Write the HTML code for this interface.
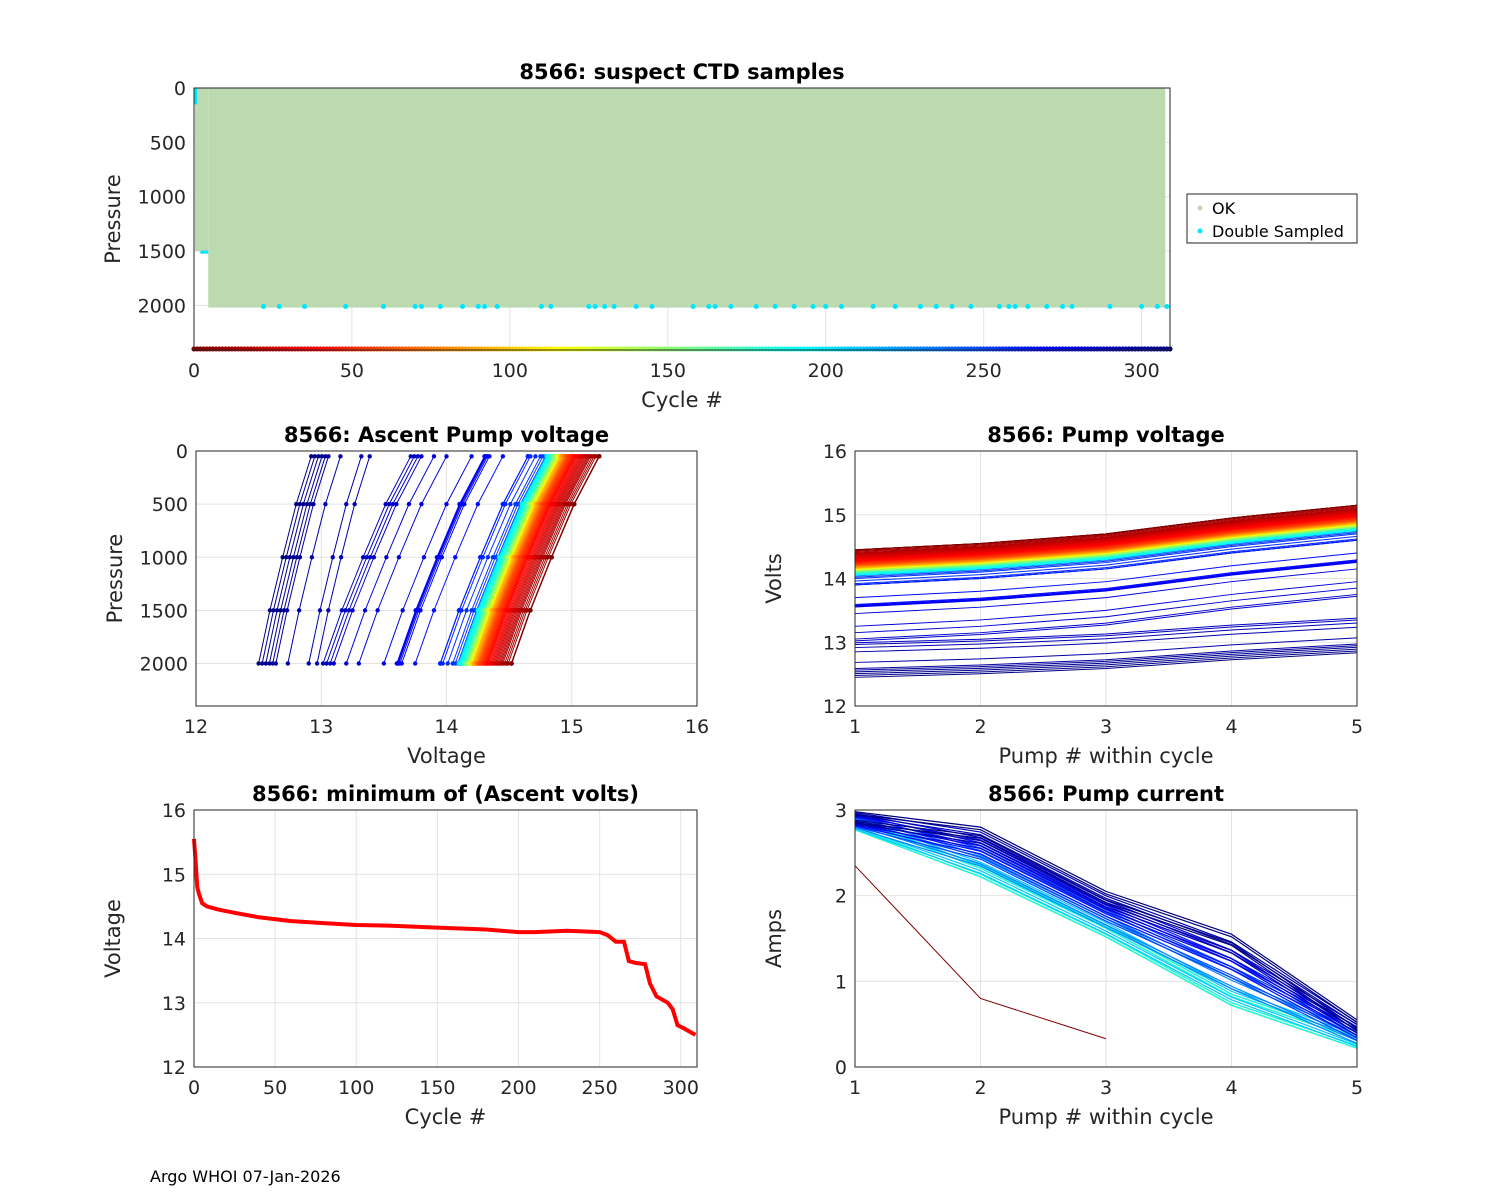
<!DOCTYPE html>
<html><head><meta charset="utf-8"><style>
body{margin:0;background:#fff;width:1500px;height:1200px;overflow:hidden;font-family:"DejaVu Sans","Liberation Sans",sans-serif}
svg text{font-family:"DejaVu Sans","Liberation Sans",sans-serif;fill:#262626}
</style></head><body>
<svg id="fig" width="1500" height="1200" xmlns="http://www.w3.org/2000/svg">
<text x="150" y="1182" font-size="16" style="fill:#000">Argo WHOI 07-Jan-2026</text>
</svg>
<script>
// ---- data ----
const minCycles=[0,1,2,3,5,8,15,25,40,60,80,100,120,150,180,200,210,230,250,255,260,265,268,272,278,281,285,292,295,298,302,309];
const minVolts=[15.55,15.2,14.8,14.7,14.55,14.5,14.45,14.4,14.33,14.27,14.24,14.21,14.2,14.17,14.14,14.1,14.1,14.12,14.1,14.05,13.95,13.95,13.65,13.62,13.6,13.3,13.1,13.0,12.9,12.65,12.6,12.5];
const doubleSampled=[22,27,35,48,60,70,72,78,85,90,92,96,110,113,125,127,130,133,140,145,158,163,165,170,178,184,190,196,200,205,215,222,230,235,240,246,255,258,260,264,270,275,278,290,300,305,308];
const pumpOffsets=[0,0.1,0.25,0.5,0.7];
const ascentPressures=[2000,1500,1000,500,50];
const ascentOffsets=[0,0.15,0.32,0.5,0.7];
const currentCycles=[5,30,60,90,120,150,170,190,210,230,250,265,280,295,309];
const currentProfile=[2.9,2.35,1.65,0.85,0.35];
const currentProfileHigh=[2.98,2.8,2.05,1.55,0.55];
const currentOutlier=[2.35,0.8,0.33];
// ---- helpers ----
const svg=document.getElementById('fig');const NS='http://www.w3.org/2000/svg';
function el(t,a,p){const e=document.createElementNS(NS,t);for(const k in a)e.setAttribute(k,a[k]);(p||svg).appendChild(e);return e;}
function jet(t){const r=Math.min(Math.max(1.5-Math.abs(4*t-3),0),1),g=Math.min(Math.max(1.5-Math.abs(4*t-2),0),1),b=Math.min(Math.max(1.5-Math.abs(4*t-1),0),1);return `rgb(${r*255|0},${g*255|0},${b*255|0})`;}
function cycColor(c){return jet(1-c/309);}
function minAt(c){for(let i=1;i<minCycles.length;i++){if(c<=minCycles[i]){const f=(c-minCycles[i-1])/(minCycles[i]-minCycles[i-1]);return minVolts[i-1]+f*(minVolts[i]-minVolts[i-1]);}}return minVolts[minVolts.length-1];}
function axes(name,x0,y0,w,h,xmin,xmax,ymin,ymax,rev,xt,yt,title,xl,yl){
 const g=el('g',{});
 const sx=v=>x0+(v-xmin)/(xmax-xmin)*w;
 const sy=v=>rev?y0+(v-ymin)/(ymax-ymin)*h:y0+h-(v-ymin)/(ymax-ymin)*h;
 el('rect',{x:x0,y:y0,width:w,height:h,fill:'#fff'},g);
 xt.forEach(v=>{el('line',{x1:sx(v),x2:sx(v),y1:y0,y2:y0+h,stroke:'#e3e3e3'},g);const t=el('text',{x:sx(v),y:y0+h+27,'font-size':19,'text-anchor':'middle'},g);t.textContent=v;});
 yt.forEach(v=>{el('line',{x1:x0,x2:x0+w,y1:sy(v),y2:sy(v),stroke:'#e3e3e3'},g);const t=el('text',{x:x0-8,y:sy(v)+7,'font-size':19,'text-anchor':'end'},g);t.textContent=v;});
 const tt=el('text',{x:x0+w/2,y:y0-9,'font-size':21,'font-weight':'bold','text-anchor':'middle'},g);tt.textContent=title;tt.style.fill='#000';
 const xa=el('text',{x:x0+w/2,y:y0+h+57,'font-size':21,'text-anchor':'middle'},g);xa.textContent=xl;
 const ya=el('text',{x:0,y:0,'font-size':21,'text-anchor':'middle',transform:`translate(${x0-74},${y0+h/2}) rotate(-90)`},g);ya.textContent=yl;
 const plot=el('g',{},g);
 return {g,plot,sx,sy,finish(){el('rect',{x:x0,y:y0,width:w,height:h,fill:'none',stroke:'#262626'},g);}};
}
// ---- top panel ----
const A=axes('ctd-samples-axes',194,88,976,262,0,309,0,2410,true,[0,50,100,150,200,250,300],[0,500,1000,1500,2000],'8566: suspect CTD samples','Cycle #','Pressure');
el('rect',{x:A.sx(4.5),y:A.sy(0),width:A.sx(307.5)-A.sx(4.5),height:A.sy(2020)-A.sy(0),fill:'#bcdab0'},A.plot);
el('rect',{x:A.sx(0.3),y:A.sy(0),width:A.sx(4.5)-A.sx(0.3),height:A.sy(1500)-A.sy(0),fill:'#bcdab0'},A.plot);
el('line',{x1:A.sx(0.5),x2:A.sx(0.5),y1:A.sy(0),y2:A.sy(150),stroke:'#00e5ff','stroke-width':3},A.plot);
el('line',{x1:A.sx(2),x2:A.sx(4.5),y1:A.sy(1510),y2:A.sy(1510),stroke:'#00e5ff','stroke-width':3},A.plot);
doubleSampled.forEach(c=>{const d=el('circle',{cx:A.sx(c),cy:A.sy(2010),r:2.5,fill:'#00e5ff'},A.plot);});
for(let c=0;c<=309;c++){const d=el('circle',{cx:A.sx(c),cy:A.sy(2400),r:2.6,fill:cycColor(c)},A.plot);}
A.finish();
const lg=el('g',{});
el('rect',{x:1187,y:194,width:170,height:49,fill:'#fff',stroke:'#262626'},lg);
el('circle',{cx:1200,cy:208,r:2.5,fill:'#bcdab0'},lg);el('circle',{cx:1200,cy:231,r:2.5,fill:'#00e5ff'},lg);
let t=el('text',{x:1212,y:214,'font-size':16},lg);t.textContent='OK';t.style.fill='#000';
t=el('text',{x:1212,y:237,'font-size':16},lg);t.textContent='Double Sampled';t.style.fill='#000';
// ---- ascent pump voltage ----
const B=axes('ascent-pump-voltage-axes',196,451,501,255,12,16,0,2400,true,[12,13,14,15,16],[0,500,1000,1500,2000],'8566: Ascent Pump voltage','Voltage','Pressure');
for(let c=309;c>=0;c-=2){const m=Math.min(minAt(c),14.52);const s=m<13?0.6:1;const pts=ascentPressures.map((p,i)=>B.sx(m+ascentOffsets[i]*s)+','+B.sy(p)).join(' ');
 const l=el('polyline',{points:pts,fill:'none',stroke:cycColor(c),'stroke-width':1},B.plot);
 ascentPressures.forEach((p,i)=>el('circle',{cx:B.sx(m+ascentOffsets[i]*s),cy:B.sy(p),r:2.2,fill:cycColor(c)},B.plot));}
B.finish();
// ---- pump voltage ----
const C=axes('pump-voltage-axes',855,451,502,255,1,5,12,16,false,[1,2,3,4,5],[12,13,14,15,16],'8566: Pump voltage','Pump # within cycle','Volts');
for(let c=309;c>=0;c-=2){const m=Math.min(minAt(c),14.5)-0.05;const s=m<13?0.55:1;const pts=pumpOffsets.map((o,i)=>C.sx(i+1)+','+C.sy(m+o*s)).join(' ');
 const l=el('polyline',{points:pts,fill:'none',stroke:cycColor(c),'stroke-width':1},C.plot);}
C.finish();
// ---- min ascent volts ----
const D=axes('min-ascent-volts-axes',194,810,503,257,0,310,12,16,false,[0,50,100,150,200,250,300],[12,13,14,15,16],'8566: minimum of (Ascent volts)','Cycle #','Voltage');
const mp=el('polyline',{points:minCycles.map((c,i)=>D.sx(c)+','+D.sy(minVolts[i])).join(' '),fill:'none',stroke:'#ff0000','stroke-width':4},D.plot);

D.finish();
// ---- pump current ----
const E=axes('pump-current-axes',855,810,502,257,1,5,0,3,false,[1,2,3,4,5],[0,1,2,3],'8566: Pump current','Pump # within cycle','Amps');
currentCycles.forEach(c=>{const f=Math.max(0,(c-200)/109);
 for(let k=0;k<4;k++){const pts=currentProfile.map((v,i)=>E.sx(i+1)+','+E.sy(v+f*(currentProfileHigh[i]-v)-0.05*k+0.02*(k%2))).join(' ');
 const l=el('polyline',{points:pts,fill:'none',stroke:cycColor(c),'stroke-width':1.2},E.plot);}});
const ol=el('polyline',{points:currentOutlier.map((v,i)=>E.sx(i+1)+','+E.sy(v)).join(' '),fill:'none',stroke:'#800000'},E.plot);

E.finish();
</script>
</body></html>
